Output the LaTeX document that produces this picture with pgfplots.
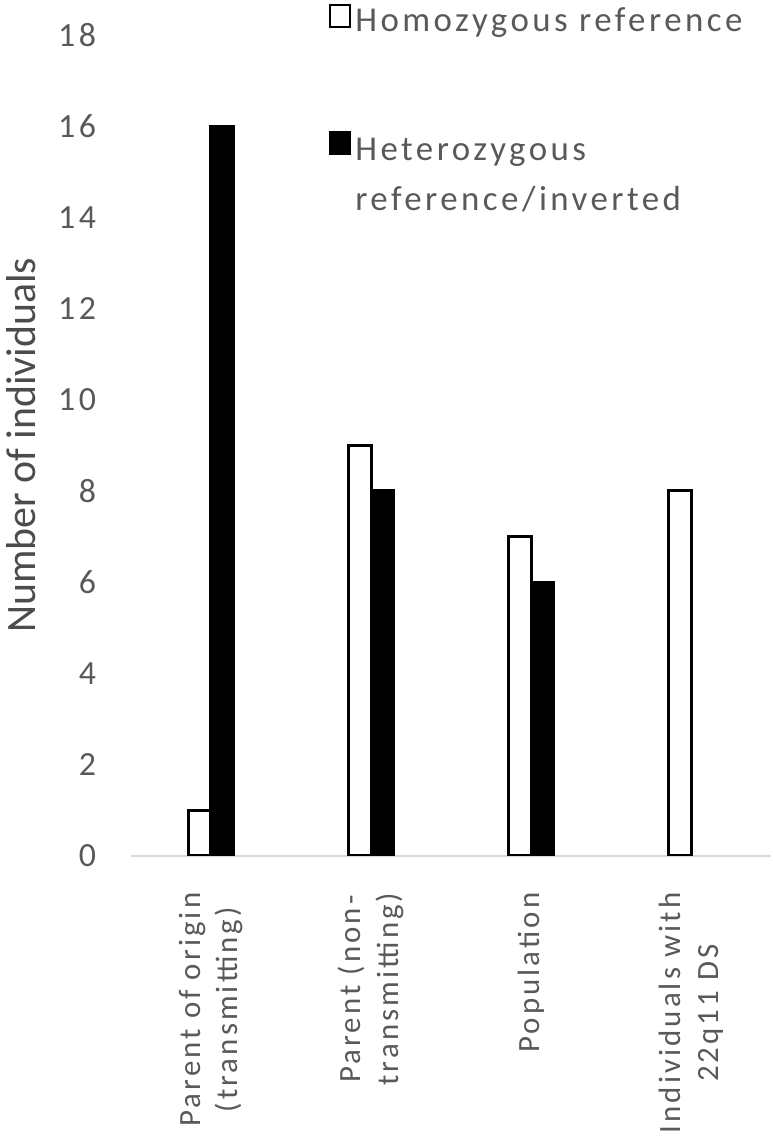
\documentclass[border=0pt]{standalone}
\usepackage{pgfplots}
\pgfplotsset{compat=1.18}
\usepackage{fontspec}
\setmainfont{Carlito}
\newfontfamily\spaced[LetterSpace=10]{Carlito}
\definecolor{txt}{HTML}{595959}
\definecolor{axisgray}{HTML}{D9D9D9}

\begin{document}
\begin{tikzpicture}
\begin{axis}[
    scale only axis,
    width=321.5pt, height=412pt,
    ybar=0pt, bar width=11.25pt,
    xmin=-0.5, xmax=3.5,
    ymin=0, ymax=18,
    xtick={0,1,2,3},
    xticklabels={{Parent of origin\\(transmitting)},{Parent (non-\\transmitting)},{Population},{Individuals with\\22q11 DS}},
    ytick={0,2,...,18},
    axis x line*=bottom,
    axis y line*=left,
    y axis line style={draw=none},
    x axis line style={axisgray, line width=1pt},
    major tick length=0pt,
    /pgf/number format/assume math mode=true,
    yticklabel style={font=\spaced\fontsize{17}{20}\selectfont, text=txt},
    yticklabel shift=14pt,
    xticklabel style={font=\spaced\fontsize{15.5}{19}\selectfont, text=txt,
        rotate=90, anchor=east, align=center},
    xticklabel shift=15pt,
    ylabel={Number of individuals},
    every axis y label/.style={at={(rel axis cs:0,0.5)}, xshift=-55pt,
        rotate=90, anchor=center, font=\fontsize{21}{24}\selectfont, text=txt!85!black},
    legend style={at={(rel axis cs:0.30,1.043)}, anchor=north west,
        draw=none, fill=none, row sep=45pt,
        font=\spaced\fontsize{17.5}{20}\selectfont, text=txt,
        /tikz/every even column/.append style={column sep=4pt}},
    legend cell align=left,
    legend image code/.code={\draw[#1, line width=1pt] (0pt,-3pt) rectangle (10pt,8pt);},
]
\addplot[draw=black, fill=white, line width=1.5pt] coordinates {(0,1) (1,9) (2,7) (3,8)};
\addplot[draw=black, fill=black, line width=1.5pt] coordinates {(0,16) (1,8) (2,6)};
\legend{Homozygous reference, {\begin{tabular}[t]{@{}l@{}}Heterozygous\\[5pt]reference/inverted\end{tabular}}}
\end{axis}
\end{tikzpicture}
\end{document}
